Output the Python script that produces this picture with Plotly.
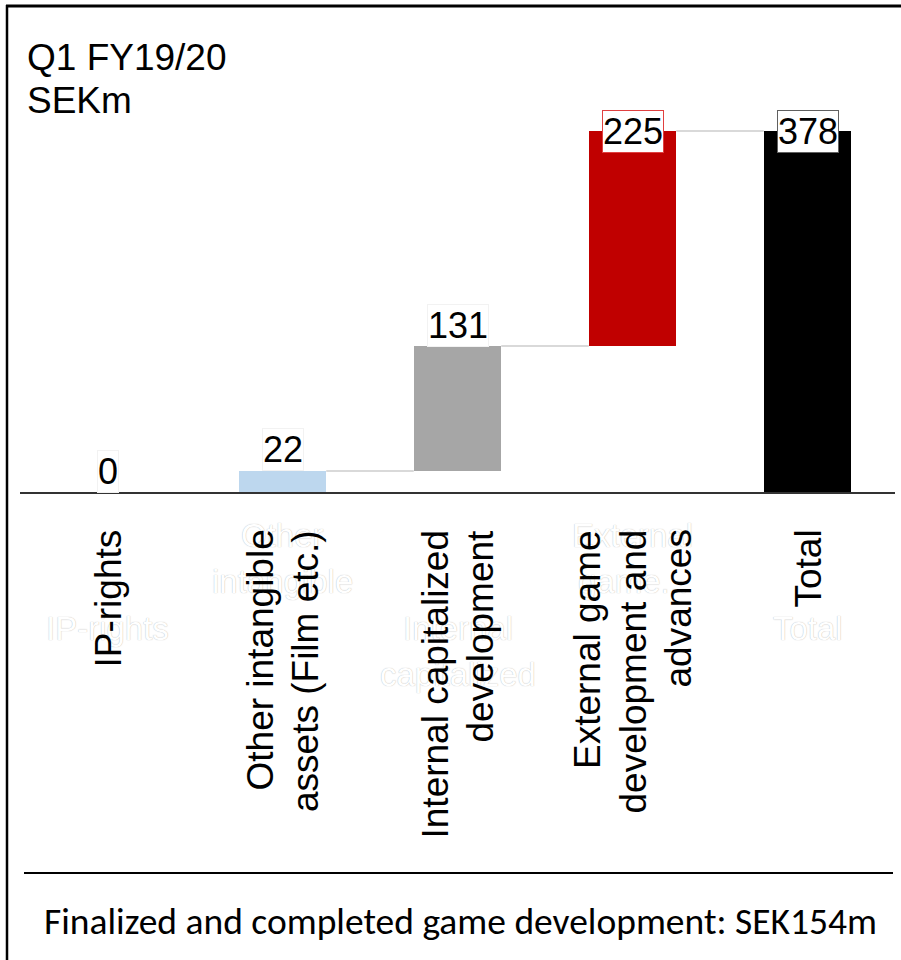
import plotly.graph_objects as go

# ---------------- data ----------------
categories = ["IP-rights", "Other intangible assets", "Internal capitalized development",
              "External game development and advances", "Total"]
tick_lines = [["IP-rights"], ["Other intangible", "assets (Film etc.)"],
              ["Internal capitalized", "development"],
              ["External game", "development and", "advances"], ["Total"]]
ghost_labels = [["IP-rights"], ["Other", "intangible"], ["Internal", "capitalized"],
                ["External", "game..."], ["Total"]]
deltas = [0, 22, 131, 225]          # increments
total_value = 378                   # total bar
label_texts = ["0", "22", "131", "225", "378"]
bar_colors = ["#BDD7EE", "#BDD7EE", "#A6A6A6", "#C00000", "#000000"]
note_text = "Finalized and completed game development: SEK154m"
title_lines = ["Q1 FY19/20", "SEKm"]

# ---------------- geometry helpers ----------------
W, H = 901, 960
ML, MR, MT, MB = 20, 6, 110, 468
PW, PH = W - ML - MR, H - MT - MB
YMAX = 400

def px_x(px):
    return (px - ML) / PW

def px_y(py):
    return (H - MB - py) / PH

# waterfall bases / heights
bases, heights = [], []
run = 0
for d in deltas:
    bases.append(run)
    heights.append(d)
    run += d
bases.append(0)
heights.append(total_value)
tops = [b + h for b, h in zip(bases, heights)]

BAR_W = 0.5
fig = go.Figure()
fig.add_trace(go.Bar(
    x=list(range(len(categories))), y=heights, base=bases,
    marker=dict(color=bar_colors, line=dict(width=0)),
    width=BAR_W, hoverinfo="skip", showlegend=False,
))

# connectors (skip those lying on the baseline)
cx, cy = [], []
for i in range(len(categories) - 1):
    lvl = tops[i]
    if lvl == 0:
        continue
    cx += [i + BAR_W / 2, i + 1 - BAR_W / 2, None]
    cy += [lvl, lvl, None]
fig.add_trace(go.Scatter(x=cx, y=cy, mode="lines",
                         line=dict(color="#D9D9D9", width=2),
                         hoverinfo="skip", showlegend=False, cliponaxis=False))

annotations = []
FONT = "Liberation Sans, Arial"

# ghost labels (faint, behind)
ghost_rows = [[628], [535, 581], [628, 674], [535, 581], [628]]
for i, lines in enumerate(ghost_labels):
    for ln, row in zip(lines, ghost_rows[i]):
        annotations.append(dict(
            x=i, y=px_y(row), xref="x", yref="paper", text=ln, showarrow=False,
            yanchor="middle", xanchor="center",
            font=dict(family=FONT, size=33, color="white",
                      shadow="0px 0px 1px #a8a8a8"),
        ))

# category labels (rotated, one annotation per line)
PITCH = 45
for i, lines in enumerate(tick_lines):
    n = len(lines)
    for j, ln in enumerate(lines):
        annotations.append(dict(
            x=i, y=px_y(529), xref="x", yref="paper", text=ln, showarrow=False,
            textangle=-90, xanchor="center", yanchor="top",
            xshift=(j - (n - 1) / 2) * PITCH, borderpad=0,
            font=dict(family=FONT, size=37, color="black"),
        ))

# value labels
label_shift = [21, 21, 20, 0, 0]
label_border = ["#F2F2F2", "#F2F2F2", "#F2F2F2", "#E04040", "#606060"]
for i, t in enumerate(label_texts):
    annotations.append(dict(
        x=i, y=tops[i], xref="x", yref="y", text=t, showarrow=False,
        yanchor="middle", xanchor="center", yshift=label_shift[i],
        font=dict(family=FONT, size=36, color="black"),
        bgcolor="white", bordercolor=label_border[i], borderwidth=1, borderpad=0,
    ))

# title
for ln, row in zip(title_lines, [58, 100]):
    annotations.append(dict(
        x=px_x(25), y=px_y(row), xref="paper", yref="paper", text=ln,
        showarrow=False, xanchor="left", yanchor="middle",
        font=dict(family=FONT, size=37, color="black"),
    ))

# bottom note
annotations.append(dict(
    x=px_x(460), y=px_y(921), xref="paper", yref="paper", text=note_text,
    showarrow=False, xanchor="center", yanchor="middle",
    font=dict(family="Carlito, Calibri, Noto Sans", size=37.5, color="black"),
))

shapes = [
    # frame: left and top
    dict(type="line", xref="paper", yref="paper", x0=px_x(7), x1=px_x(7),
         y0=px_y(5), y1=px_y(962), line=dict(color="black", width=2.5)),
    dict(type="line", xref="paper", yref="paper", x0=px_x(6), x1=px_x(903),
         y0=px_y(6), y1=px_y(6), line=dict(color="black", width=3)),
    # separator above note
    dict(type="line", xref="paper", yref="paper", x0=px_x(24), x1=px_x(893),
         y0=px_y(873), y1=px_y(873), line=dict(color="black", width=2)),
]

fig.update_layout(
    width=W, height=H,
    margin=dict(l=ML, r=MR, t=MT, b=MB, autoexpand=False),
    paper_bgcolor="white", plot_bgcolor="white",
    showlegend=False, hovermode=False,
    annotations=annotations, shapes=shapes, bargap=0,
)
fig.update_xaxes(
    range=[-0.5, len(categories) - 0.5], showticklabels=False,
    ticks="", showgrid=False, zeroline=False,
    showline=True, linecolor="#333333", linewidth=2, automargin=False,
)
fig.update_yaxes(range=[0, YMAX], visible=False, showgrid=False, zeroline=False)

fig.write_html("out.html", config={"displayModeBar": False},
               post_script="document.body.style.margin='0';document.body.style.overflow='hidden';")
